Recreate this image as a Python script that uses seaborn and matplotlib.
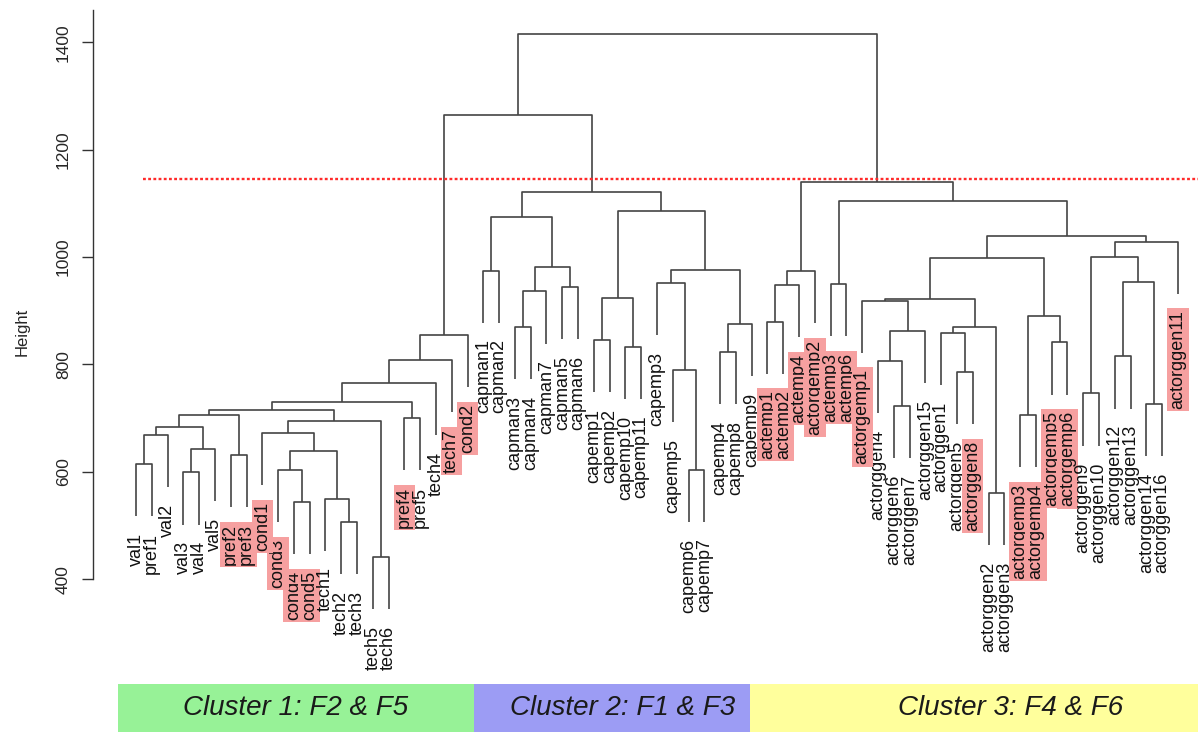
import matplotlib
matplotlib.use("Agg")
import matplotlib.pyplot as plt
import seaborn as sns

# ---------------- data ----------------
# merges: (left, right, height); left/right = leaf name or index of an earlier merge
merges = [
    ("val1", "pref1", 615), (0, "val2", 669), ("val3", "val4", 599), (2, "val5", 642),
    (1, 3, 683), ("pref2", "pref3", 631), (4, 5, 706), ("cond4", "cond5", 544),
    ("cond3", 7, 603), ("tech2", "tech3", 507), ("tech1", 9, 550), (8, 10, 639),
    ("cond1", 11, 672), ("tech5", "tech6", 441), (12, 13, 695), (6, 14, 715),
    ("pref4", "pref5", 700), (15, 16, 731), (17, "tech4", 765), (18, "tech7", 808),
    (19, "cond2", 855),
    ("capman1", "capman2", 975), ("capman3", "capman4", 870), (22, "capman7", 936),
    ("capman5", "capman6", 944), (23, 24, 982), (21, 25, 1074),
    ("capemp1", "capemp2", 846), ("capemp10", "capemp11", 833), (27, 28, 924),
    ("capemp6", "capemp7", 604), ("capemp5", 30, 790), ("capemp3", 31, 951),
    ("capemp4", "capemp8", 823), (33, "capemp9", 875), (32, 34, 976), (29, 35, 1085),
    (26, 36, 1122),
    ("actemp1", "actemp2", 880), (38, "actemp4", 948), (39, "actorgemp2", 974),
    ("actemp3", "actemp6", 950), ("actorggen6", "actorggen7", 722),
    ("actorggen4", 42, 807), (43, "actorggen15", 863), ("actorgemp1", 44, 919),
    ("actorggen5", "actorggen8", 786), ("actorggen1", 46, 858),
    ("actorggen2", "actorggen3", 560), (47, 48, 869), (45, 49, 922),
    ("actorgemp3", "actorgemp4", 706), ("actorgemp5", "actorgemp6", 841),
    (51, 52, 891), (50, 53, 998), ("actorggen9", "actorggen10", 746),
    ("actorggen12", "actorggen13", 815), ("actorggen14", "actorggen16", 726),
    (56, 57, 954), (55, 58, 1001), (59, "actorggen11", 1029), (54, 60, 1039),
    (41, 61, 1105), (40, 62, 1140),
    (20, 37, 1264), (64, 63, 1415),
]

highlighted = ["pref2", "pref3", "cond1", "cond3", "cond4", "cond5", "pref4", "tech7",
               "cond2", "actemp1", "actemp2", "actemp4", "actorgemp2", "actemp3",
               "actemp6", "actorgemp1", "actorggen8", "actorgemp3", "actorgemp4",
               "actorgemp5", "actorgemp6", "actorggen11"]

cut_height = 1146
y_ticks = [400, 600, 800, 1000, 1200, 1400]
band_labels = ["Cluster 1: F2 & F5", "Cluster 2: F1 & F3", "Cluster 3: F4 & F6"]
band_colors = ["#97F297", "#9C9CF4", "#FFFF9C"]

# ---------------- layout ----------------
hang = 97
label_gap = 31
band_edges = [-1.14, 21.41, 38.89, 67.27]
band_text_x = [10.13, 30.85, 55.42]

sns.set_style("white")
plt.rcParams["font.family"] = ["Liberation Sans", "DejaVu Sans"]

fig = plt.figure(figsize=(11.98, 7.32), dpi=100)
ax = fig.add_axes([93 / 1198, 64 / 732, (1198 - 93) / 1198, 658 / 732])
ax.set_xlim(-2.7236, 67.27)
ax.set_ylim(234.8, 1460.1)

# leaf order from tree traversal
order = []
def walk(ref):
    if isinstance(ref, str):
        order.append(ref)
    else:
        a, b, _ = merges[ref]
        walk(a)
        walk(b)
walk(len(merges) - 1)
xpos = {name: i for i, name in enumerate(order)}

node_x = {}
def get_x(ref):
    if isinstance(ref, str):
        return xpos[ref]
    if ref not in node_x:
        a, b, _ = merges[ref]
        node_x[ref] = (get_x(a) + get_x(b)) / 2
    return node_x[ref]

line_kw = dict(color="#444444", lw=1.2, solid_capstyle="butt")
for i, (a, b, h) in enumerate(merges):
    xa, xb = get_x(a), get_x(b)
    ya = h - hang if isinstance(a, str) else merges[a][2]
    yb = h - hang if isinstance(b, str) else merges[b][2]
    ax.plot([xa, xa, xb, xb], [ya, h, h, yb], **line_kw)
    for ref, y in ((a, ya), (b, yb)):
        if isinstance(ref, str):
            kw = {}
            if ref in highlighted:
                kw["bbox"] = dict(boxstyle="square,pad=0.12", fc="#F6A0A0", ec="none")
            ax.text(get_x(ref), y - label_gap, ref, rotation=90, ha="center", va="top",
                    fontsize=13, color="#111111", clip_on=False, **kw)

# cut line
ax.plot([0.45, 67.27], [cut_height, cut_height], color="#FF2A2A", lw=1.7,
        linestyle=(0, (1.2, 1.0)))

# axis styling
for s in ["top", "right", "bottom"]:
    ax.spines[s].set_visible(False)
ax.spines["left"].set_bounds(400, 1460)
ax.spines["left"].set_color("#333333")
ax.spines["left"].set_linewidth(1.0)
ax.set_xticks([])
ax.set_yticks(y_ticks)
ax.set_yticklabels([str(t) for t in y_ticks], rotation=90, va="center", fontsize=12.5)
ax.tick_params(axis="y", length=8, width=1.0, color="#333333", pad=8, left=True)
fig.text(22 / 1198, 1 - 332 / 732, "Height", rotation=90, ha="center", va="center",
         fontsize=12)

# bottom cluster band
bax = fig.add_axes([93 / 1198, 0, (1198 - 93) / 1198, 48 / 732])
bax.set_xlim(-2.7236, 67.27)
bax.set_ylim(0, 1)
bax.axis("off")
for i, (lab, col) in enumerate(zip(band_labels, band_colors)):
    bax.axvspan(band_edges[i], band_edges[i + 1], color=col, lw=0)
    bax.text(band_text_x[i], 0.5, lab, ha="center", va="center", fontsize=20,
             style="italic", color="#1a1a1a")

fig.savefig("out.png", dpi=100)
